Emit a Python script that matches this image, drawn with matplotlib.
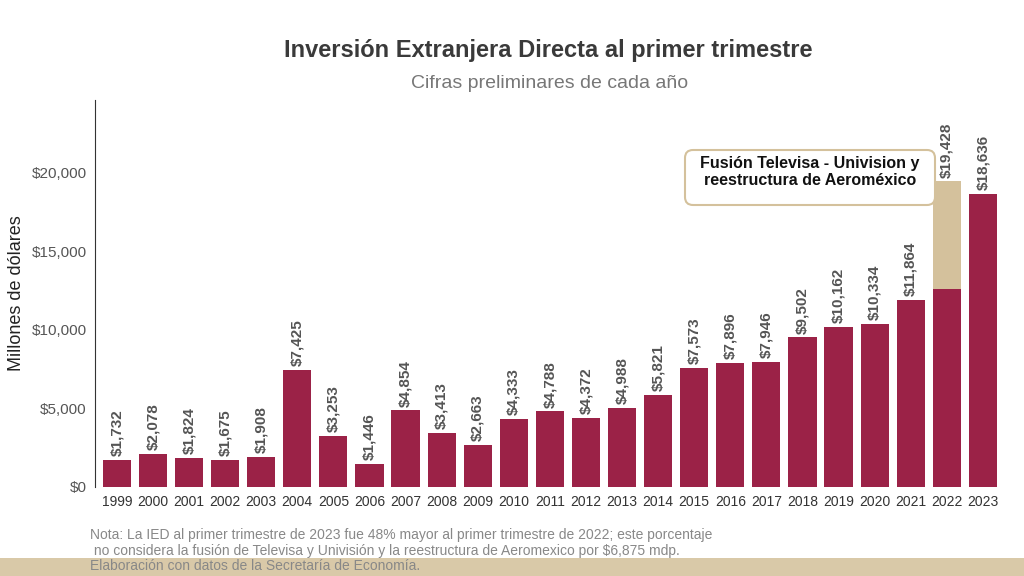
import matplotlib.pyplot as plt
from matplotlib.patches import FancyBboxPatch, Rectangle

plt.rcParams['font.family'] = ['Liberation Sans', 'DejaVu Sans']

years = [str(y) for y in range(1999, 2024)]
values = [1732, 2078, 1824, 1675, 1908, 7425, 3253, 1446, 4854, 3413, 2663, 4333,
          4788, 4372, 4988, 5821, 7573, 7896, 7946, 9502, 10162, 10334, 11864, 19428, 18636]
# 2022: part from the Televisa-Univision merger and Aeromexico restructuring
extra_2022 = 6875
yticks = [0, 5000, 10000, 15000, 20000]

wine = "#9B2247"
tan = "#D4C19C"
gray = "#555555"

fig = plt.figure(figsize=(10.24, 5.76), dpi=100)
fig.patch.set_facecolor("white")
ax = fig.add_axes([0.093, 0.155, 0.888, 0.671])

x = list(range(len(years)))
base = [v - extra_2022 if y == "2022" else v for y, v in zip(years, values)]
ax.bar(x, base, width=0.78, color=wine)
i22 = years.index("2022")
ax.bar(i22, extra_2022, bottom=base[i22], width=0.78, color=tan)

for xi, v in zip(x, values):
    ax.text(xi, v + 250, f"${v:,}", rotation=90, ha="center", va="bottom",
            fontsize=11, fontweight="bold", color=gray)

ax.set_xlim(-0.6, len(years) - 0.4)
ax.set_ylim(0, 24600)
ax.set_xticks(x)
ax.set_xticklabels(years, fontsize=10, color="#333333")
ax.set_yticks(yticks)
ax.set_yticklabels([f"${t:,}" for t in yticks], fontsize=11, color=gray)
ax.tick_params(length=0, pad=6)
ax.set_ylabel("Millones de dólares", fontsize=13, color="#222222", labelpad=5)
for s in ["top", "right", "bottom"]:
    ax.spines[s].set_visible(False)
ax.spines["left"].set_color("#333333")

box = FancyBboxPatch((685, 371), 250, 55, boxstyle="round,pad=0,rounding_size=8",
                     transform=None, facecolor="white", edgecolor=tan, linewidth=1.5)
fig.patches.append(box)
fig.text(810 / 1024, 1 - 172 / 576, "Fusión Televisa - Univision y\nreestructura de Aeroméxico",
         ha="center", va="center", fontsize=11.5, fontweight="bold", color="#111111")

fig.text(548 / 1024, 1 - 50 / 576, "Inversión Extranjera Directa al primer trimestre",
         ha="center", va="center", fontsize=17, fontweight="bold", color="#3a3a3a")
fig.text(550 / 1024, 1 - 84 / 576, "Cifras preliminares de cada año",
         ha="center", va="center", fontsize=14, color="#777777")

fig.text(90 / 1024, 1 - 543 / 576,
         "Nota: La IED al primer trimestre de 2023 fue 48% mayor al primer trimestre de 2022; este porcentaje\n"
         " no considera la fusión de Televisa y Univisión y la reestructura de Aeromexico por $6,875 mdp.",
         ha="left", va="center", fontsize=10, color="#888888", linespacing=1.2)
fig.patches.append(Rectangle((0, 0), 1, 18 / 576, transform=fig.transFigure,
                             facecolor="#D9C9A8", edgecolor="none"))
fig.text(90 / 1024, 1 - 566 / 576, "Elaboración con datos de la Secretaría de Economía.",
         ha="left", va="center", fontsize=10, color="#888888")

fig.savefig("out.png", dpi=100)
